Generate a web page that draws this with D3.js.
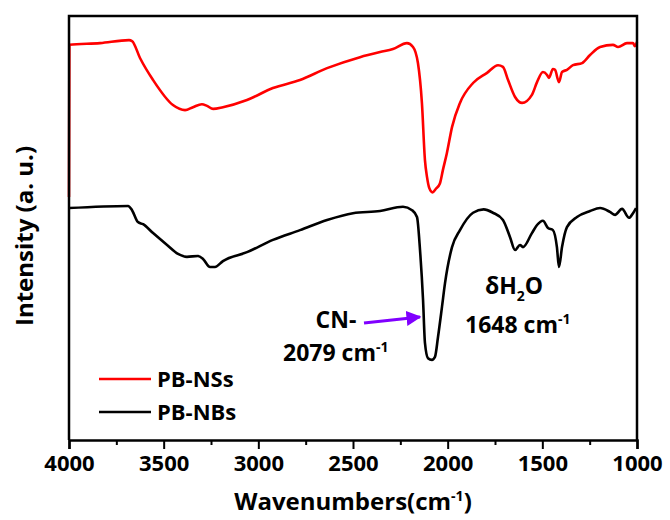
<!DOCTYPE html>
<html>
<head>
<meta charset="utf-8">
<script src="https://cdn.jsdelivr.net/npm/d3@7"></script>
<style>
  body { margin: 0; background: #fff; }
  svg text { font-family: "Open Sans", sans-serif; font-weight: bold; fill: #000; }
</style>
</head>
<body>
<svg width="670" height="520"></svg>
<script>
// wavenumbers (cm-1) and intensities (a.u., 0..100 of the frame height)
var nsWave = [4000, 3998, 3836, 3683, 3667, 3625, 3556, 3451, 3387, 3345, 3298, 3271, 3239, 3187, 3060, 2923,
  2780, 2637, 2463, 2357, 2289, 2215, 2183, 2157, 2136, 2120, 2109, 2097, 2080, 2063, 2041, 2025, 2004, 1977, 1935,
  1866, 1792, 1734, 1708, 1681, 1644, 1607, 1555, 1528, 1497, 1475, 1465, 1444, 1433, 1412, 1396, 1370, 1338,
  1290, 1248, 1195, 1127, 1100, 1053, 1021, 1011, 1000];
var nsVal = [57.3, 93.2, 93.6, 94.3, 94.1, 90.1, 84.9, 79.0, 77.8, 78.5, 79.2, 78.8, 78.1, 78.5, 80.2, 83.0,
  84.9, 87.7, 90.3, 91.5, 92.2, 93.6, 92.7, 88.9, 79.5, 66.0, 62.0, 59.4, 58.4, 59.2, 60.5, 63.7, 67.7, 73.8, 79.5,
  84.2, 86.6, 88.4, 88.0, 84.9, 80.9, 79.5, 81.4, 84.4, 86.8, 86.1, 85.4, 87.5, 87.3, 84.4, 86.8, 87.3, 88.4,
  88.9, 90.8, 92.7, 93.2, 92.7, 93.6, 93.6, 92.9, 93.9];

var nbWave = [4000, 3688, 3667, 3636, 3609, 3556, 3482, 3424, 3377, 3319, 3292, 3255, 3229, 3187, 3060, 2923,
  2780, 2637, 2500, 2357, 2236, 2188, 2162, 2146, 2130, 2120, 2104, 2083, 2067, 2051, 2030, 2014, 1977, 1935,
  1866, 1810, 1761, 1708, 1671, 1644, 1618, 1602, 1555, 1528, 1497, 1470, 1444, 1423, 1412, 1396, 1370, 1317, 1248,
  1195, 1143, 1116, 1079, 1042, 1021, 1005];
var nbVal = [54.7, 55.2, 54.2, 51.4, 50.9, 48.8, 46.0, 43.9, 43.2, 43.4, 42.7, 40.8, 40.8, 42.2, 44.3, 47.2,
  49.5, 51.9, 53.5, 54.0, 55.0, 54.2, 52.6, 44.8, 33.0, 22.9, 19.3, 18.9, 19.6, 24.3, 31.4, 37.0, 45.5, 49.5,
  53.6, 54.4, 53.6, 51.9, 47.9, 44.8, 46.0, 45.5, 48.8, 50.7, 51.7, 50.0, 49.5, 45.5, 40.8, 45.5, 50.2, 52.6, 54.0,
  54.7, 53.8, 53.1, 54.5, 52.4, 53.5, 54.7];

var seriesNames = ["PB-NSs", "PB-NBs"];
var seriesColors = ["#ff0000", "#000000"];
var xTicks = [4000, 3500, 3000, 2500, 2000, 1500, 1000];
var xMinor = [3750, 3250, 2750, 2250, 1750, 1250];

var svg = d3.select("svg");
var margin = {left: 69, right: 33, top: 16, bottom: 80};
var width = 670 - margin.left - margin.right,
    height = 520 - margin.top - margin.bottom;

var g = svg.append("g").attr("transform", "translate(" + margin.left + "," + margin.top + ")");

var x = d3.scaleLinear().domain([4000, 1000]).range([0, width]);
var y = d3.scaleLinear().domain([0, 100]).range([height, 0]);

var line = d3.line()
  .x(function (d) { return x(d[0]); })
  .y(function (d) { return y(d[1]); })
  .curve(d3.curveMonotoneX);

var series = [d3.zip(nsWave, nsVal), d3.zip(nbWave, nbVal)];

g.selectAll("path.spec")
  .data(series)
  .enter().append("path")
  .attr("class", "spec")
  .attr("d", line)
  .attr("fill", "none")
  .attr("stroke", function (d, i) { return seriesColors[i]; })
  .attr("stroke-width", 2.6)
  .attr("stroke-linejoin", "round");

// frame
g.append("path")
  .attr("d", "M0," + height + "V0H" + width + "V" + height)
  .attr("fill", "none")
  .attr("stroke", "#000")
  .attr("stroke-width", 2.5);

// x axis
var xAxis = g.append("g")
  .attr("transform", "translate(0," + height + ")")
  .call(d3.axisBottom(x).tickValues(xTicks).tickSize(9).tickPadding(6).tickFormat(d3.format("d")));
xAxis.select(".domain").attr("stroke-width", 2.5);
xAxis.selectAll(".tick line").attr("stroke-width", 2);
xAxis.selectAll("text").style("font-size", "22px");

g.append("g")
  .attr("transform", "translate(0," + height + ")")
  .call(d3.axisBottom(x).tickValues(xMinor).tickSize(5).tickFormat(""))
  .call(function (s) { s.select(".domain").remove(); })
  .selectAll(".tick line").attr("stroke-width", 2);

// axis titles
var xt = svg.append("text")
  .attr("x", margin.left + width / 2)
  .attr("y", 510)
  .attr("text-anchor", "middle")
  .style("font-size", "24px");
xt.append("tspan").text("Wavenumbers(cm");
xt.append("tspan").attr("dy", -9).style("font-size", "14px").text("-1");
xt.append("tspan").attr("dy", 9).text(")");

svg.append("text")
  .attr("transform", "translate(33," + (margin.top + height / 2 + 8) + ") rotate(-90)")
  .attr("text-anchor", "middle")
  .style("font-size", "24px")
  .text("Intensity (a. u.)");

// legend
var legend = g.selectAll("g.leg")
  .data(seriesNames)
  .enter().append("g")
  .attr("class", "leg")
  .attr("transform", function (d, i) { return "translate(30," + (363 + i * 33) + ")"; });
legend.append("line")
  .attr("x1", 0).attr("x2", 52)
  .attr("stroke", function (d, i) { return seriesColors[i]; })
  .attr("stroke-width", 2.6);
legend.append("text")
  .attr("x", 58)
  .attr("dy", "0.35em")
  .style("font-size", "22px")
  .text(function (d) { return d; });

// annotations
var defs = svg.append("defs");
defs.append("marker")
  .attr("id", "arr")
  .attr("viewBox", "0 0 10 10")
  .attr("refX", 9).attr("refY", 5)
  .attr("markerWidth", 5).attr("markerHeight", 5)
  .attr("orient", "auto")
  .append("path").attr("d", "M0,0L10,5L0,10z").attr("fill", "#8000ff");

svg.append("line")
  .attr("x1", 364).attr("y1", 323)
  .attr("x2", 420).attr("y2", 317)
  .attr("stroke", "#8000ff")
  .attr("stroke-width", 3)
  .attr("marker-end", "url(#arr)");

svg.append("text").attr("x", 336).attr("y", 328).attr("text-anchor", "middle")
  .style("font-size", "23px").text("CN-");

var t1 = svg.append("text").attr("x", 283).attr("y", 361).style("font-size", "23px");
t1.append("tspan").text("2079 cm");
t1.append("tspan").attr("dy", -9).style("font-size", "14px").text("-1");

var t2 = svg.append("text").attr("x", 485).attr("y", 294).style("font-size", "23px");
t2.append("tspan").text("δH");
t2.append("tspan").attr("dy", 7).style("font-size", "14px").text("2");
t2.append("tspan").attr("dy", -7).text("O");

var t3 = svg.append("text").attr("x", 465).attr("y", 333).style("font-size", "23px");
t3.append("tspan").text("1648 cm");
t3.append("tspan").attr("dy", -9).style("font-size", "14px").text("-1");
</script>
</body>
</html>
